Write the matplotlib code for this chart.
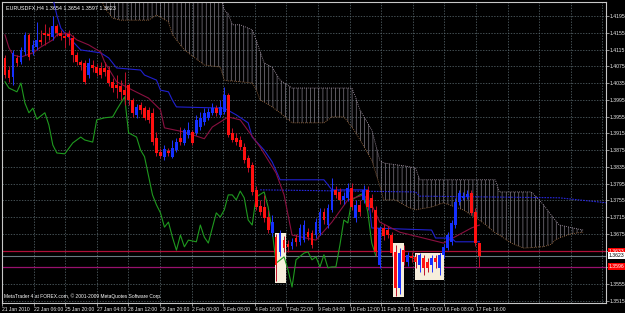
import numpy as np
import matplotlib.pyplot as plt
import matplotlib.transforms as mtransforms
from matplotlib.patches import Rectangle

plt.rcParams['font.family'] = ['Liberation Sans', 'DejaVu Sans']

# EURUSDFX H4 candles
opens = [1.4095, 1.4066, 1.4049, 1.4095, 1.4085, 1.4109, 1.4150, 1.4109, 1.4121, 1.4138,
         1.4154, 1.4152, 1.4145, 1.4171, 1.4154, 1.4147, 1.4152, 1.4143, 1.4102, 1.4085,
         1.4083, 1.4054, 1.4078, 1.4073, 1.4071, 1.4071, 1.4066, 1.4038, 1.4030, 1.4028,
         1.4018, 1.4030, 1.3994, 1.3959, 1.3983, 1.3975, 1.3971, 1.3964, 1.3904, 1.3871,
         1.3859, 1.3873, 1.3859, 1.3875, 1.3904, 1.3892, 1.3911, 1.3918, 1.3916, 1.3930,
         1.3942, 1.3952, 1.3964, 1.3975, 1.3959, 1.3966, 1.4006, 1.3916, 1.3904, 1.3899,
         1.3882, 1.3856, 1.3839, 1.3780, 1.3742, 1.3739, 1.3715, 1.3677, 1.3667, 1.3632,
         1.3660, 1.3651, 1.3646, 1.3665, 1.3656, 1.3660, 1.3679, 1.3677, 1.3672, 1.3677,
         1.3727, 1.3696, 1.3732, 1.3780, 1.3775, 1.3756, 1.3761, 1.3784, 1.3713, 1.3744,
         1.3756, 1.3780, 1.3761, 1.3732, 1.3601, 1.3689, 1.3684, 1.3672, 1.3632, 1.3546,
         1.3636, 1.3608, 1.3622, 1.3620, 1.3601, 1.3617, 1.3608, 1.3601, 1.3617, 1.3594,
         1.3625, 1.3641, 1.3656, 1.3696, 1.3751, 1.3761, 1.3763, 1.3772, 1.3727, 1.3654]
highs = [1.4102, 1.4076, 1.4114, 1.4102, 1.4121, 1.4157, 1.4154, 1.4138, 1.4181, 1.4162,
         1.4176, 1.4169, 1.4195, 1.4176, 1.4162, 1.4157, 1.4162, 1.4150, 1.4109, 1.4090,
         1.4090, 1.4095, 1.4090, 1.4080, 1.4085, 1.4085, 1.4076, 1.4047, 1.4054, 1.4042,
         1.4061, 1.4035, 1.3999, 1.3985, 1.3990, 1.3980, 1.3978, 1.3975, 1.3918, 1.3880,
         1.3887, 1.3880, 1.3899, 1.3904, 1.3930, 1.3928, 1.3942, 1.3923, 1.3959, 1.3966,
         1.3975, 1.3975, 1.3987, 1.3983, 1.3994, 1.4026, 1.4011, 1.3928, 1.3916, 1.3909,
         1.3892, 1.3863, 1.3847, 1.3789, 1.3756, 1.3768, 1.3732, 1.3720, 1.3675, 1.3684,
         1.3670, 1.3660, 1.3665, 1.3675, 1.3698, 1.3708, 1.3689, 1.3684, 1.3713, 1.3737,
         1.3737, 1.3746, 1.3808, 1.3789, 1.3784, 1.3775, 1.3796, 1.3796, 1.3756, 1.3756,
         1.3792, 1.3789, 1.3770, 1.3742, 1.3694, 1.3698, 1.3694, 1.3679, 1.3648, 1.3641,
         1.3648, 1.3632, 1.3632, 1.3627, 1.3629, 1.3625, 1.3617, 1.3625, 1.3625, 1.3629,
         1.3651, 1.3679, 1.3708, 1.3761, 1.3780, 1.3775, 1.3780, 1.3780, 1.3737, 1.3654]
lows = [1.4047, 1.4038, 1.4030, 1.4076, 1.4080, 1.4102, 1.4090, 1.4102, 1.4114, 1.4126,
        1.4126, 1.4138, 1.4138, 1.4147, 1.4138, 1.4119, 1.4126, 1.4085, 1.4078, 1.4066,
        1.4033, 1.4047, 1.4061, 1.4052, 1.4047, 1.4052, 1.4028, 1.4014, 1.3999, 1.3994,
        1.3983, 1.3983, 1.3954, 1.3952, 1.3961, 1.3947, 1.3940, 1.3887, 1.3861, 1.3856,
        1.3851, 1.3861, 1.3856, 1.3871, 1.3887, 1.3887, 1.3904, 1.3887, 1.3911, 1.3923,
        1.3935, 1.3947, 1.3959, 1.3956, 1.3954, 1.3961, 1.3906, 1.3894, 1.3887, 1.3875,
        1.3844, 1.3823, 1.3768, 1.3732, 1.3720, 1.3703, 1.3677, 1.3670, 1.3563, 1.3622,
        1.3632, 1.3632, 1.3639, 1.3646, 1.3648, 1.3656, 1.3660, 1.3641, 1.3665, 1.3672,
        1.3698, 1.3689, 1.3727, 1.3761, 1.3746, 1.3746, 1.3754, 1.3732, 1.3703, 1.3718,
        1.3749, 1.3732, 1.3727, 1.3622, 1.3594, 1.3660, 1.3665, 1.3622, 1.3527, 1.3531,
        1.3601, 1.3598, 1.3608, 1.3594, 1.3584, 1.3577, 1.3584, 1.3584, 1.3594, 1.3577,
        1.3617, 1.3636, 1.3648, 1.3689, 1.3744, 1.3756, 1.3758, 1.3720, 1.3646, 1.3597]
closes = [1.4054, 1.4047, 1.4107, 1.4083, 1.4114, 1.4150, 1.4097, 1.4126, 1.4138, 1.4133,
          1.4150, 1.4147, 1.4171, 1.4154, 1.4147, 1.4143, 1.4145, 1.4102, 1.4085, 1.4078,
          1.4038, 1.4083, 1.4071, 1.4059, 1.4054, 1.4061, 1.4035, 1.4023, 1.4023, 1.4014,
          1.4006, 1.3994, 1.3964, 1.3978, 1.3971, 1.3952, 1.3947, 1.3894, 1.3868, 1.3861,
          1.3878, 1.3868, 1.3880, 1.3894, 1.3894, 1.3923, 1.3923, 1.3892, 1.3947, 1.3952,
          1.3964, 1.3966, 1.3975, 1.3964, 1.3978, 1.4006, 1.3911, 1.3899, 1.3894, 1.3882,
          1.3851, 1.3832, 1.3775, 1.3739, 1.3727, 1.3713, 1.3684, 1.3703, 1.3601, 1.3677,
          1.3641, 1.3644, 1.3656, 1.3656, 1.3689, 1.3696, 1.3667, 1.3648, 1.3703, 1.3727,
          1.3708, 1.3737, 1.3780, 1.3768, 1.3756, 1.3765, 1.3784, 1.3739, 1.3744, 1.3727,
          1.3780, 1.3739, 1.3737, 1.3632, 1.3689, 1.3670, 1.3672, 1.3629, 1.3546, 1.3629,
          1.3608, 1.3625, 1.3617, 1.3608, 1.3625, 1.3594, 1.3594, 1.3617, 1.3608, 1.3625,
          1.3644, 1.3672, 1.3701, 1.3751, 1.3772, 1.3765, 1.3770, 1.3725, 1.3653, 1.3623]

# ichimoku lines, read at bar positions
tenkan_idx = [0, 1, 2, 4, 7, 9, 12, 13, 16, 18, 21, 24, 25, 28, 32, 36, 39, 40, 45, 50,
              52, 54, 56, 59, 64, 68, 70, 72, 78, 82, 86, 90, 92, 94, 99, 110, 117, 119]
tenkan = [1.4150, 1.4119, 1.4102, 1.4097, 1.4107, 1.4121, 1.4138, 1.4150, 1.4154, 1.4138,
          1.4126, 1.4109, 1.4085, 1.4038, 1.4018, 1.3999, 1.3971, 1.3928, 1.3918, 1.3902,
          1.3930, 1.3942, 1.3954, 1.3947, 1.3882, 1.3820, 1.3768, 1.3672, 1.3660, 1.3703,
          1.3756, 1.3768, 1.3744, 1.3703, 1.3679, 1.3653, 1.3689, 1.3696]
kijun_idx = [12, 13, 14, 15, 19, 24, 26, 28, 34, 35, 38, 39, 41, 42, 43, 55, 58, 61, 62, 65,
             67, 69, 80, 82, 91, 92, 107, 108, 112, 113, 119]
kijun = [1.4238, 1.4197, 1.4166, 1.4154, 1.4114, 1.4107, 1.4095, 1.4071, 1.4066, 1.4054,
         1.4042, 1.4018, 1.4014, 1.3994, 1.3978, 1.3975, 1.3959, 1.3940, 1.3906, 1.3875,
         1.3847, 1.3804, 1.3804, 1.3780, 1.3780, 1.3689, 1.3684, 1.3665, 1.3665, 1.3656,
         1.3656]
kijun2_idx = [64, 103, 104, 139, 151]
kijun2 = [1.3780, 1.3775, 1.3765, 1.3761, 1.3749]
chikou_idx = [0, 1, 3, 4, 5, 6, 7, 8, 10, 11, 12, 13, 15, 17, 19, 20, 22, 23, 25, 27,
              28, 30, 31, 33, 34, 35, 37, 38, 39, 40, 41, 42, 43, 44, 45, 46, 48, 49, 50, 51,
              52, 53, 54, 55, 56, 57, 58, 59, 60, 61, 62, 63, 65, 66, 67, 68, 70, 71, 72, 73,
              75, 76, 77, 78, 79, 80, 81, 82, 83, 84, 85, 86, 87, 89, 90, 91, 92, 93]
chikou = [1.4038, 1.4023, 1.4014, 1.4035, 1.3987, 1.3964, 1.3975, 1.3949, 1.3964, 1.3935,
          1.3887, 1.3868, 1.3866, 1.3892, 1.3906, 1.3899, 1.3894, 1.3947, 1.3952, 1.3954,
          1.3971, 1.4002, 1.3916, 1.3906, 1.3875, 1.3859, 1.3768, 1.3744, 1.3725, 1.3691,
          1.3703, 1.3667, 1.3636, 1.3672, 1.3644, 1.3660, 1.3656, 1.3696, 1.3667, 1.3653,
          1.3689, 1.3725, 1.3715, 1.3732, 1.3768, 1.3768, 1.3756, 1.3777, 1.3761, 1.3708,
          1.3696, 1.3763, 1.3775, 1.3739, 1.3684, 1.3605, 1.3620, 1.3589, 1.3548, 1.3613,
          1.3629, 1.3632, 1.3613, 1.3620, 1.3596, 1.3625, 1.3594, 1.3596, 1.3596, 1.3648,
          1.3708, 1.3701, 1.3756, 1.3768, 1.3772, 1.3727, 1.3653, 1.3623]
cloud_idx = [24, 25, 27, 29, 36, 38, 41, 42, 45, 50, 54, 55, 56, 57, 59, 62, 63, 64, 65, 67,
             69, 72, 80, 82, 85, 87, 88, 89, 92, 94, 95, 98, 101, 103, 104, 107, 110, 115, 120, 123,
             124, 127, 130, 132, 134, 135, 137, 138, 139, 142, 145]
span_a = [1.4240, 1.4214, 1.4190, 1.4185, 1.4185, 1.4197, 1.4181, 1.4150, 1.4114, 1.4078,
          1.4073, 1.4042, 1.4040, 1.4040, 1.4038, 1.4035, 1.4020, 1.3994, 1.3990, 1.3978,
          1.3964, 1.3940, 1.3940, 1.3954, 1.3954, 1.3930, 1.3916, 1.3900, 1.3851, 1.3790,
          1.3756, 1.3756, 1.3739, 1.3732, 1.3734, 1.3739, 1.3749, 1.3732, 1.3701, 1.3677,
          1.3672, 1.3653, 1.3641, 1.3642, 1.3644, 1.3644, 1.3650, 1.3660, 1.3665, 1.3675,
          1.3679]
span_b = [1.4250, 1.4250, 1.4250, 1.4250, 1.4250, 1.4250, 1.4250, 1.4250, 1.4250, 1.4250,
          1.4250, 1.4209, 1.4200, 1.4174, 1.4174, 1.4162, 1.4138, 1.4110, 1.4083, 1.4073,
          1.4042, 1.4023, 1.4023, 1.4023, 1.4023, 1.4023, 1.4000, 1.3971, 1.3923, 1.3851,
          1.3844, 1.3840, 1.3836, 1.3832, 1.3804, 1.3804, 1.3804, 1.3804, 1.3804, 1.3804,
          1.3775, 1.3775, 1.3775, 1.3775, 1.3756, 1.3745, 1.3720, 1.3708, 1.3696, 1.3690,
          1.3684]

# horizontal lines and marked boxes
hlines = [1.3633, 1.3596]
hline_colors = ['#b0103a', '#98106e']
bid_price = 1.3623
boxes = [(67.75, 70.5, 1.3558, 1.3677), (97.25, 100.0, 1.3524, 1.3653), (102.75, 110.0, 1.3565, 1.3629)]

price_ticks = [1.3515, 1.3555, 1.3595, 1.3635, 1.3675, 1.3715, 1.3755, 1.3795, 1.3835, 1.3875,
               1.3915, 1.3955, 1.3995, 1.4035, 1.4075, 1.4115, 1.4155, 1.4195]
time_labels = ['21 Jan 2010', '22 Jan 06:00', '25 Jan 20:00', '27 Jan 04:00', '28 Jan 12:00',
               '29 Jan 20:00', '2 Feb 00:00', '3 Feb 08:00', '4 Feb 16:00', '7 Feb 22:00',
               '9 Feb 04:00', '10 Feb 12:00', '11 Feb 20:00', '15 Feb 00:00', '16 Feb 08:00',
               '17 Feb 16:00']

fig = plt.figure(figsize=(6.25, 3.13), dpi=100, facecolor='black')
ax = fig.add_axes([2 / 625, 10 / 313, 604 / 625, 301 / 313])
ax.set_facecolor('black')
ax.set_xlim(-0.25, 150.75)
ax.set_ylim(1.35099, 1.42284)

# grid
grid_x = [k * 7.925 - 0.75 for k in range(20)]
for gx in grid_x[1:]:
    ax.axvline(gx, color='#5e6e74', lw=0.5, ls=(0, (2, 2)), zorder=0)
for gy in price_ticks:
    ax.axhline(gy, color='#5e6e74', lw=0.5, ls=(0, (2, 2)), zorder=0)

# kumo
plt.rcParams['hatch.linewidth'] = 0.45
ax.fill_between(cloud_idx, span_a, span_b, facecolor='none', edgecolor='#908a96',
                hatch='||||', linewidth=0, zorder=1)
ax.plot(cloud_idx, span_a, color='#b07848', lw=0.6, ls=(0, (1, 1.5)), zorder=1)
ax.plot(cloud_idx, span_b, color='#bcaabc', lw=0.6, ls=(0, (1, 1.5)), zorder=1)

# horizontal price lines
for hp, hc in zip(hlines, hline_colors):
    ax.axhline(hp, color=hc, lw=0.9, zorder=2)
ax.axhline(bid_price, color='#6a7a80', lw=0.8, zorder=2)

for x0, x1, y0, y1 in boxes:
    ax.add_patch(Rectangle((x0, y0), x1 - x0, y1 - y0, facecolor='#f6eedb',
                           edgecolor='none', zorder=3))

# indicator lines
ax.plot(chikou_idx, chikou, color='#1f9a1f', lw=0.8, zorder=4)
ax.plot(kijun_idx, kijun, color='#2020d0', lw=0.8, zorder=4)
ax.plot(kijun2_idx, kijun2, color='#2828e0', lw=0.8, ls=(0, (1.5, 1)), zorder=4)
ax.plot(tenkan_idx, tenkan, color='#8a1040', lw=0.8, zorder=4)

# candles
idx = np.arange(len(closes))
o = np.array(opens)
c = np.array(closes)
up = c >= o
body_col = np.where(up, '#1530ff', '#ff1010')
wick_col = np.where(up, '#2035ff', '#c0102a')
ax.vlines(idx, lows, highs, colors=wick_col, lw=0.7, zorder=5)
ax.bar(idx, np.maximum(np.abs(c - o), 0.00012), bottom=np.minimum(o, c), width=0.7,
       color=body_col, linewidth=0, zorder=6)

# axes styling
for side in ['left', 'bottom', 'top', 'right']:
    ax.spines[side].set_color('#c8c8c8')
    ax.spines[side].set_linewidth(0.8)
ax.yaxis.tick_right()
ax.set_yticks(price_ticks)
ax.set_yticklabels(['%.4f' % p for p in price_ticks])
ax.set_xticks(grid_x[:len(time_labels)])
ax.set_xticklabels(time_labels, ha='left')
ax.tick_params(axis='y', colors='#c8c8c8', labelsize=3.7, length=2, width=0.5, pad=0.8)
ax.tick_params(axis='x', colors='#c8c8c8', labelsize=3.6, length=2, width=0.5, pad=1)
for lab in ax.get_xticklabels() + ax.get_yticklabels():
    lab.set_color('#ececec')

# price tags on the scale
trans = mtransforms.blended_transform_factory(ax.transAxes, ax.transData)
tag_style = dict(transform=trans, fontsize=3.7, va='center', ha='left', zorder=10, clip_on=False)
ax.text(1.0045, hlines[0], '%.4f' % hlines[0], color='white',
        bbox=dict(boxstyle='square,pad=0.2', fc='#ff0000', ec='none'), **tag_style)
ax.text(1.0045, hlines[1], '%.4f' % hlines[1], color='white',
        bbox=dict(boxstyle='square,pad=0.2', fc='#ff0000', ec='none'), **tag_style)
ax.text(1.0045, bid_price, '%.4f' % bid_price, color='black',
        bbox=dict(boxstyle='square,pad=0.2', fc='white', ec='none'), **tag_style)

ax.text(0.006, 0.988, 'EURUSDFX,H4 %.4f %.4f %.4f %.4f' % (opens[-1], highs[-1], lows[-1], closes[-1]),
        transform=ax.transAxes, fontsize=3.9, color='white', va='top', ha='left', zorder=10)
ax.text(0.004, 0.012, 'MetaTrader 4 at FOREX.com, \u00a9 2001-2009 MetaQuotes Software Corp.',
        transform=ax.transAxes, fontsize=3.5, color='white', va='bottom', ha='left', zorder=10)

fig.savefig('out.png', dpi=100, facecolor='black')
